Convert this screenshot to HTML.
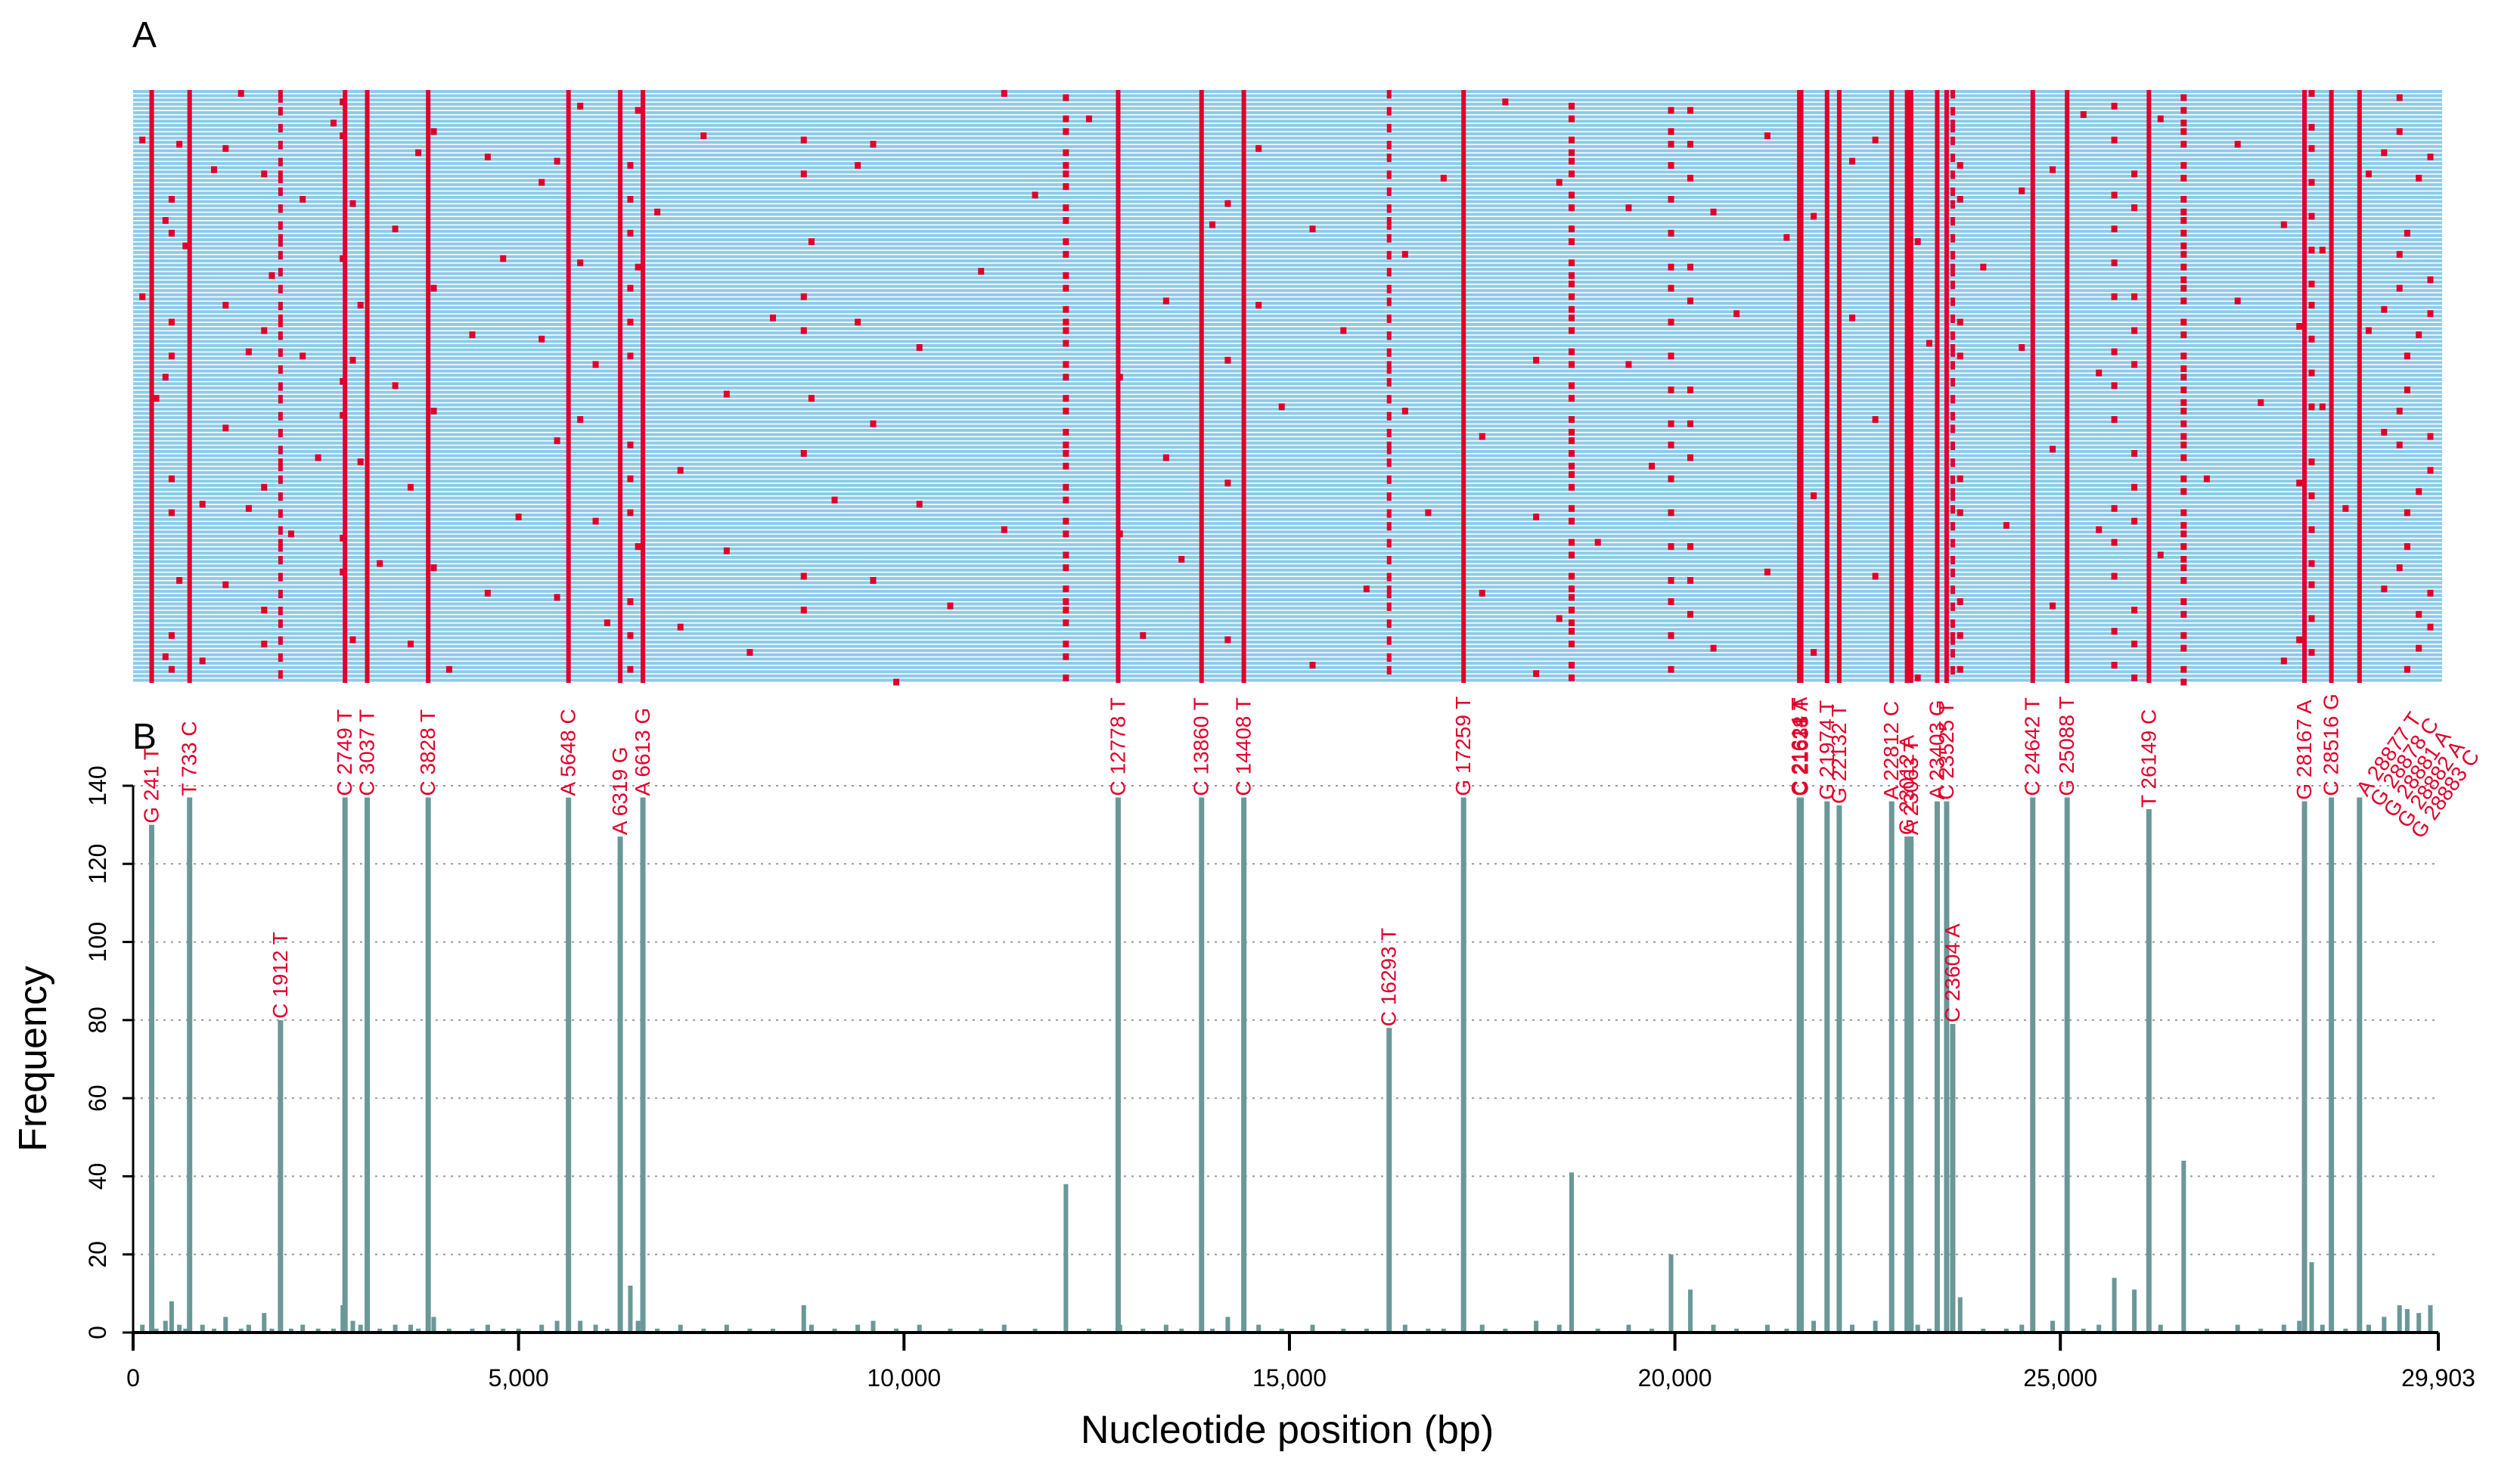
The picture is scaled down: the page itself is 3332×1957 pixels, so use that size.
<!DOCTYPE html>
<html><head><meta charset="utf-8"><style>
html,body{margin:0;padding:0;background:#fff;}
svg{display:block;font-family:"Liberation Sans",sans-serif;}
</style></head><body>
<svg id="chart" width="3332" height="1957" viewBox="0 0 3332 1957" xmlns="http://www.w3.org/2000/svg">
<text x="175" y="62" font-size="48">A</text>
<text x="175" y="990" font-size="48">B</text>
<g id="panelA"></g>
<g id="grid"></g>
<g id="bars"></g>
<g id="labels"></g>
<g id="axes"></g>
<text x="44" y="1400" font-size="52" transform="rotate(-90 44 1400)" text-anchor="middle" dominant-baseline="central">Frequency</text>
<text x="1702" y="1908" font-size="52" text-anchor="middle">Nucleotide position (bp)</text>
</svg>
<script>
const majorPos = [241,733,1912,2749,3037,3828,5648,6319,6613,12778,13860,14408,16293,17259,21614,21621,21638,21974,22132,22812,23012,23063,23403,23525,23604,24642,25088,26149,28167,28516,28881];
const majorFreq = [130,137,80,137,137,137,137,127,137,137,137,137,78,137,137,137,137,136,135,136,127,127,136,136,79,137,137,134,136,137,137];
const majorLabel = ["G 241 T","T 733 C","C 1912 T","C 2749 T","C 3037 T","C 3828 T","A 5648 C","A 6319 G","A 6613 G","C 12778 T","C 13860 T","C 14408 T","C 16293 T","G 17259 T","C 21614 T","C 21621 A","C 21638 T","G 21974 T","G 22132 T","A 22812 C","G 23012 A","A 23063 T","A 23403 G","C 23525 T","C 23604 A","C 24642 T","G 25088 T","T 26149 C","G 28167 A","C 28516 G","A 28877 T"];
const extraLabels = ["G 28878 C","G 28881 A","G 28882 A","G 28883 C"];
const minorPos = [120,300,420,500,600,680,900,1050,1200,1400,1500,1700,1800,2050,2200,2400,2600,2720,2850,2950,3200,3400,3600,3700,3900,4100,4400,4600,4800,5000,5300,5500,5800,6000,6150,6450,6550,6800,7100,7400,7700,8000,8300,8700,8800,9100,9400,9600,9900,10200,10600,11000,11300,11700,12100,12400,12800,13100,13400,13600,14000,14200,14600,14900,15300,15700,16000,16500,16800,17000,17500,17800,18200,18500,18660,19000,19400,19700,19950,20200,20500,20800,21200,21450,21800,22300,22600,23150,23300,23700,24000,24300,24500,24900,25300,25500,25700,25960,26300,26600,26900,27300,27600,27900,28100,28260,28400,28700,29000,29200,29400,29500,29650,29800];
const minorFreq = [2,1,3,8,2,1,2,1,4,1,2,5,1,1,2,1,1,7,3,2,1,2,2,1,4,1,1,2,1,1,2,3,3,2,1,12,3,1,2,1,2,1,1,7,2,1,2,3,1,2,1,1,2,1,38,1,2,1,2,1,1,4,2,1,2,1,1,2,1,1,2,1,3,2,41,1,2,1,20,11,2,1,2,1,3,2,3,2,1,9,1,1,2,3,1,2,14,11,2,44,1,2,1,2,3,18,2,1,2,4,7,6,5,7];
const yTicks = [0,20,40,60,80,100,120,140];
const xTicks = [0,5000,10000,15000,20000,25000,29903];
const xTickLabels = ["0","5,000","10,000","15,000","20,000","25,000","29,903"];

const NS="http://www.w3.org/2000/svg";
const X0=176,X1=3224,XMAX=29903,Y0=1762,Y140=1039;
const xs=p=>X0+(X1-X0)*p/XMAX;
const ys=v=>Y0-(Y0-Y140)*v/140;
function mk(tag,attrs,parent){const e=document.createElementNS(NS,tag);for(const k in attrs)e.setAttribute(k,attrs[k]);parent.appendChild(e);return e;}

// Panel A
const pA=document.getElementById('panelA');
const AT=119,AB=903,AL=176,AR=3229,ROWS=140,rh=(AB-AT)/ROWS;
const bg=mk('rect',{x:AL,y:AT,width:AR-AL,height:AB-AT,fill:'#ffffff'},pA);


for(let r=0;r<ROWS;r++){
  const row=mk('rect',{x:AL,y:AT+r*rh,width:AR-AL,height:rh*0.72,fill:'#8dcbe9'},pA);
  
  
}
for(let i=0;i<majorPos.length;i++){
  const x=xs(majorPos[i]);
  if(majorFreq[i]>=100){
    const l=mk('rect',{x:x-3,y:AT,width:6,height:AB-AT,fill:'#e0002b'},pA);
    
    
  } else {
    for(let k=0;k<majorFreq[i];k++){
      const r=(k*53+i*17)%ROWS;
      const d=mk('rect',{x:x-3,y:AT+r*rh,width:6,height:rh,fill:'#e0002b'},pA);
      
      
    }
  }
}
for(let i=0;i<minorPos.length;i++){
  const x=xs(minorPos[i]);
  for(let k=0;k<minorFreq[i];k++){
    const r=(i*61+k*37+11)%ROWS;
    const d=mk('rect',{x:x-4,y:AT+r*rh,width:8,height:rh*1.6,fill:'#e0002b'},pA);
    
    
  }
}

// grid
const g=document.getElementById('grid');
yTicks.forEach(t=>{ if(t===0)return;
  const l=mk('line',{x1:X0,x2:X1,y1:ys(t),y2:ys(t),stroke:'#999',"stroke-width":2,"stroke-dasharray":"3 7"},g);
  
  
});

// bars
const b=document.getElementById('bars');
for(let i=0;i<minorPos.length;i++){
  const x=xs(minorPos[i]);
  const r=mk('rect',{x:x-3,y:ys(minorFreq[i]),width:6,height:Y0-ys(minorFreq[i]),fill:'#6b9797'},b);
  
  
}
for(let i=0;i<majorPos.length;i++){
  const x=xs(majorPos[i]);
  const r=mk('rect',{x:x-3.5,y:ys(majorFreq[i]),width:7,height:Y0-ys(majorFreq[i]),fill:'#6b9797'},b);
  
  
}

// labels
const lb=document.getElementById('labels');
for(let i=0;i<majorPos.length-1;i++){
  const x=xs(majorPos[i])+9, y=ys(majorFreq[i])-2;
  const t=mk('text',{x:x,y:y,"font-size":28,fill:'#e0002b',transform:`rotate(-90 ${x} ${y})`},lb);
  t.textContent=majorLabel[i];
  
  
}
const all=[majorLabel[majorLabel.length-1]].concat(extraLabels);
const lx=xs(majorPos[majorPos.length-1]);
all.forEach((s,k)=>{
  const x=lx+10+k*18, y=ys(137)+k*14;
  const t=mk('text',{x:x,y:y,"font-size":28,fill:'#e0002b',transform:`rotate(-55 ${x} ${y})`},lb);
  t.textContent=s;
  
  
});

// axes
const ax=document.getElementById('axes');
let e=mk('line',{x1:X0,x2:X1,y1:Y0,y2:Y0,stroke:'#000',"stroke-width":4},ax);


e=mk('line',{x1:X0,x2:X0,y1:Y0,y2:Y140,stroke:'#000',"stroke-width":3},ax);


yTicks.forEach(t=>{
  const y=ys(t);
  const tk=mk('line',{x1:X0-14,x2:X0,y1:y,y2:y,stroke:'#000',"stroke-width":3},ax);
  
  
  const tx=mk('text',{x:140,y:y,"font-size":32,"text-anchor":"middle",transform:`rotate(-90 140 ${y})`},ax);
  tx.textContent=String(t);
  
  
});
xTicks.forEach((t,i)=>{
  const x=xs(t);
  const tk=mk('line',{x1:x,x2:x,y1:Y0,y2:Y0+24,stroke:'#000',"stroke-width":4},ax);
  
  
  const tx=mk('text',{x:x,y:1833,"font-size":32,"text-anchor":"middle"},ax);
  tx.textContent=xTickLabels[i];
  
  
});
</script>
</body></html>
